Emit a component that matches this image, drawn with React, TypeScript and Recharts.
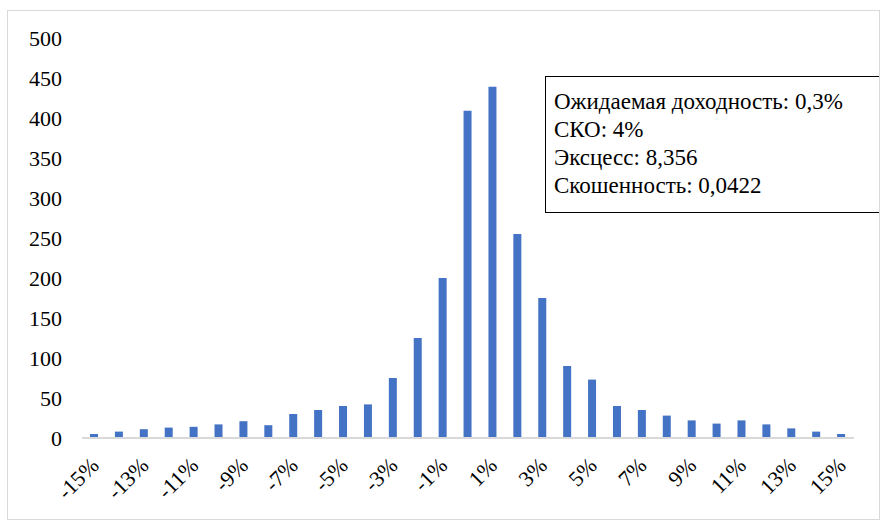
import { BarChart, Bar, XAxis, YAxis } from "recharts";

const bins = [
  "-15%", "-14%", "-13%", "-12%", "-11%", "-10%", "-9%", "-8%", "-7%", "-6%", "-5%",
  "-4%", "-3%", "-2%", "-1%", "0%", "1%", "2%", "3%", "4%", "5%", "6%", "7%",
  "8%", "9%", "10%", "11%", "12%", "13%", "14%", "15%",
];
const counts = [
  5, 8, 11, 13, 14, 17, 21, 16, 30, 35, 40,
  42, 75, 125, 200, 409, 439, 255, 175, 90, 73, 40, 35,
  28, 22, 18, 22, 17, 12, 8, 5,
];
const yTicks = [0, 50, 100, 150, 200, 250, 300, 350, 400, 450, 500];
const statLines = [
  "Ожидаемая доходность: 0,3%",
  "СКО: 4%",
  "Эксцесс: 8,356",
  "Скошенность: 0,0422",
];

const data = bins.map((bin, i) => ({ bin, count: counts[i] }));

const FONT = "Liberation Serif, Tinos, DejaVu Serif, serif";

const BinTick = (props: any) => {
  const { x, y, payload } = props;
  return (
    <g transform={`translate(${x - 1},${y + 10})`}>
      <text
        x={-3}
        y={-3}
        dy="0.7em"
        transform="rotate(-45)"
        textAnchor="end"
        fill="#000"
        fontSize={22}
        style={{ fontFamily: FONT }}
      >
        {payload.value}
      </text>
    </g>
  );
};

export default function App() {
  return (
    <div
      style={{
        position: "absolute",
        left: 7,
        top: 10,
        width: 873,
        height: 510,
        border: "1px solid #d9d9d9",
        boxSizing: "border-box",
        background: "#fff",
        overflow: "hidden",
        fontFamily: FONT,
      }}
    >
      <BarChart
        width={873}
        height={510}
        data={data}
        margin={{ top: 28, right: 26, left: 0, bottom: 12 }}
        barSize={8}
        style={{ position: "absolute", left: -1, top: -1 }}
      >
        <XAxis
          dataKey="bin"
          interval={1}
          tickLine={false}
          axisLine={{ stroke: "#d9d9d9", strokeWidth: 2 }}
          tick={<BinTick />}
          height={70}
        />
        <YAxis
          domain={[0, 500]}
          ticks={yTicks}
          width={75}
          tickLine={false}
          axisLine={false}
          tickSize={0}
          tickMargin={20}
          tick={{ fill: "#000", fontSize: 22, style: { fontFamily: FONT } }}
        />
        <Bar dataKey="count" fill="#4472C4" isAnimationActive={false} />
      </BarChart>
      <div
        style={{
          position: "absolute",
          left: 537,
          top: 65,
          width: 400,
          height: 137,
          border: "1.5px solid #000",
          boxSizing: "border-box",
          padding: "11px 0 0 8px",
          fontSize: 23,
          lineHeight: "28px",
          color: "#000",
          whiteSpace: "nowrap",
        }}
      >
        {statLines.map((line) => (
          <div key={line}>{line}</div>
        ))}
      </div>
    </div>
  );
}
